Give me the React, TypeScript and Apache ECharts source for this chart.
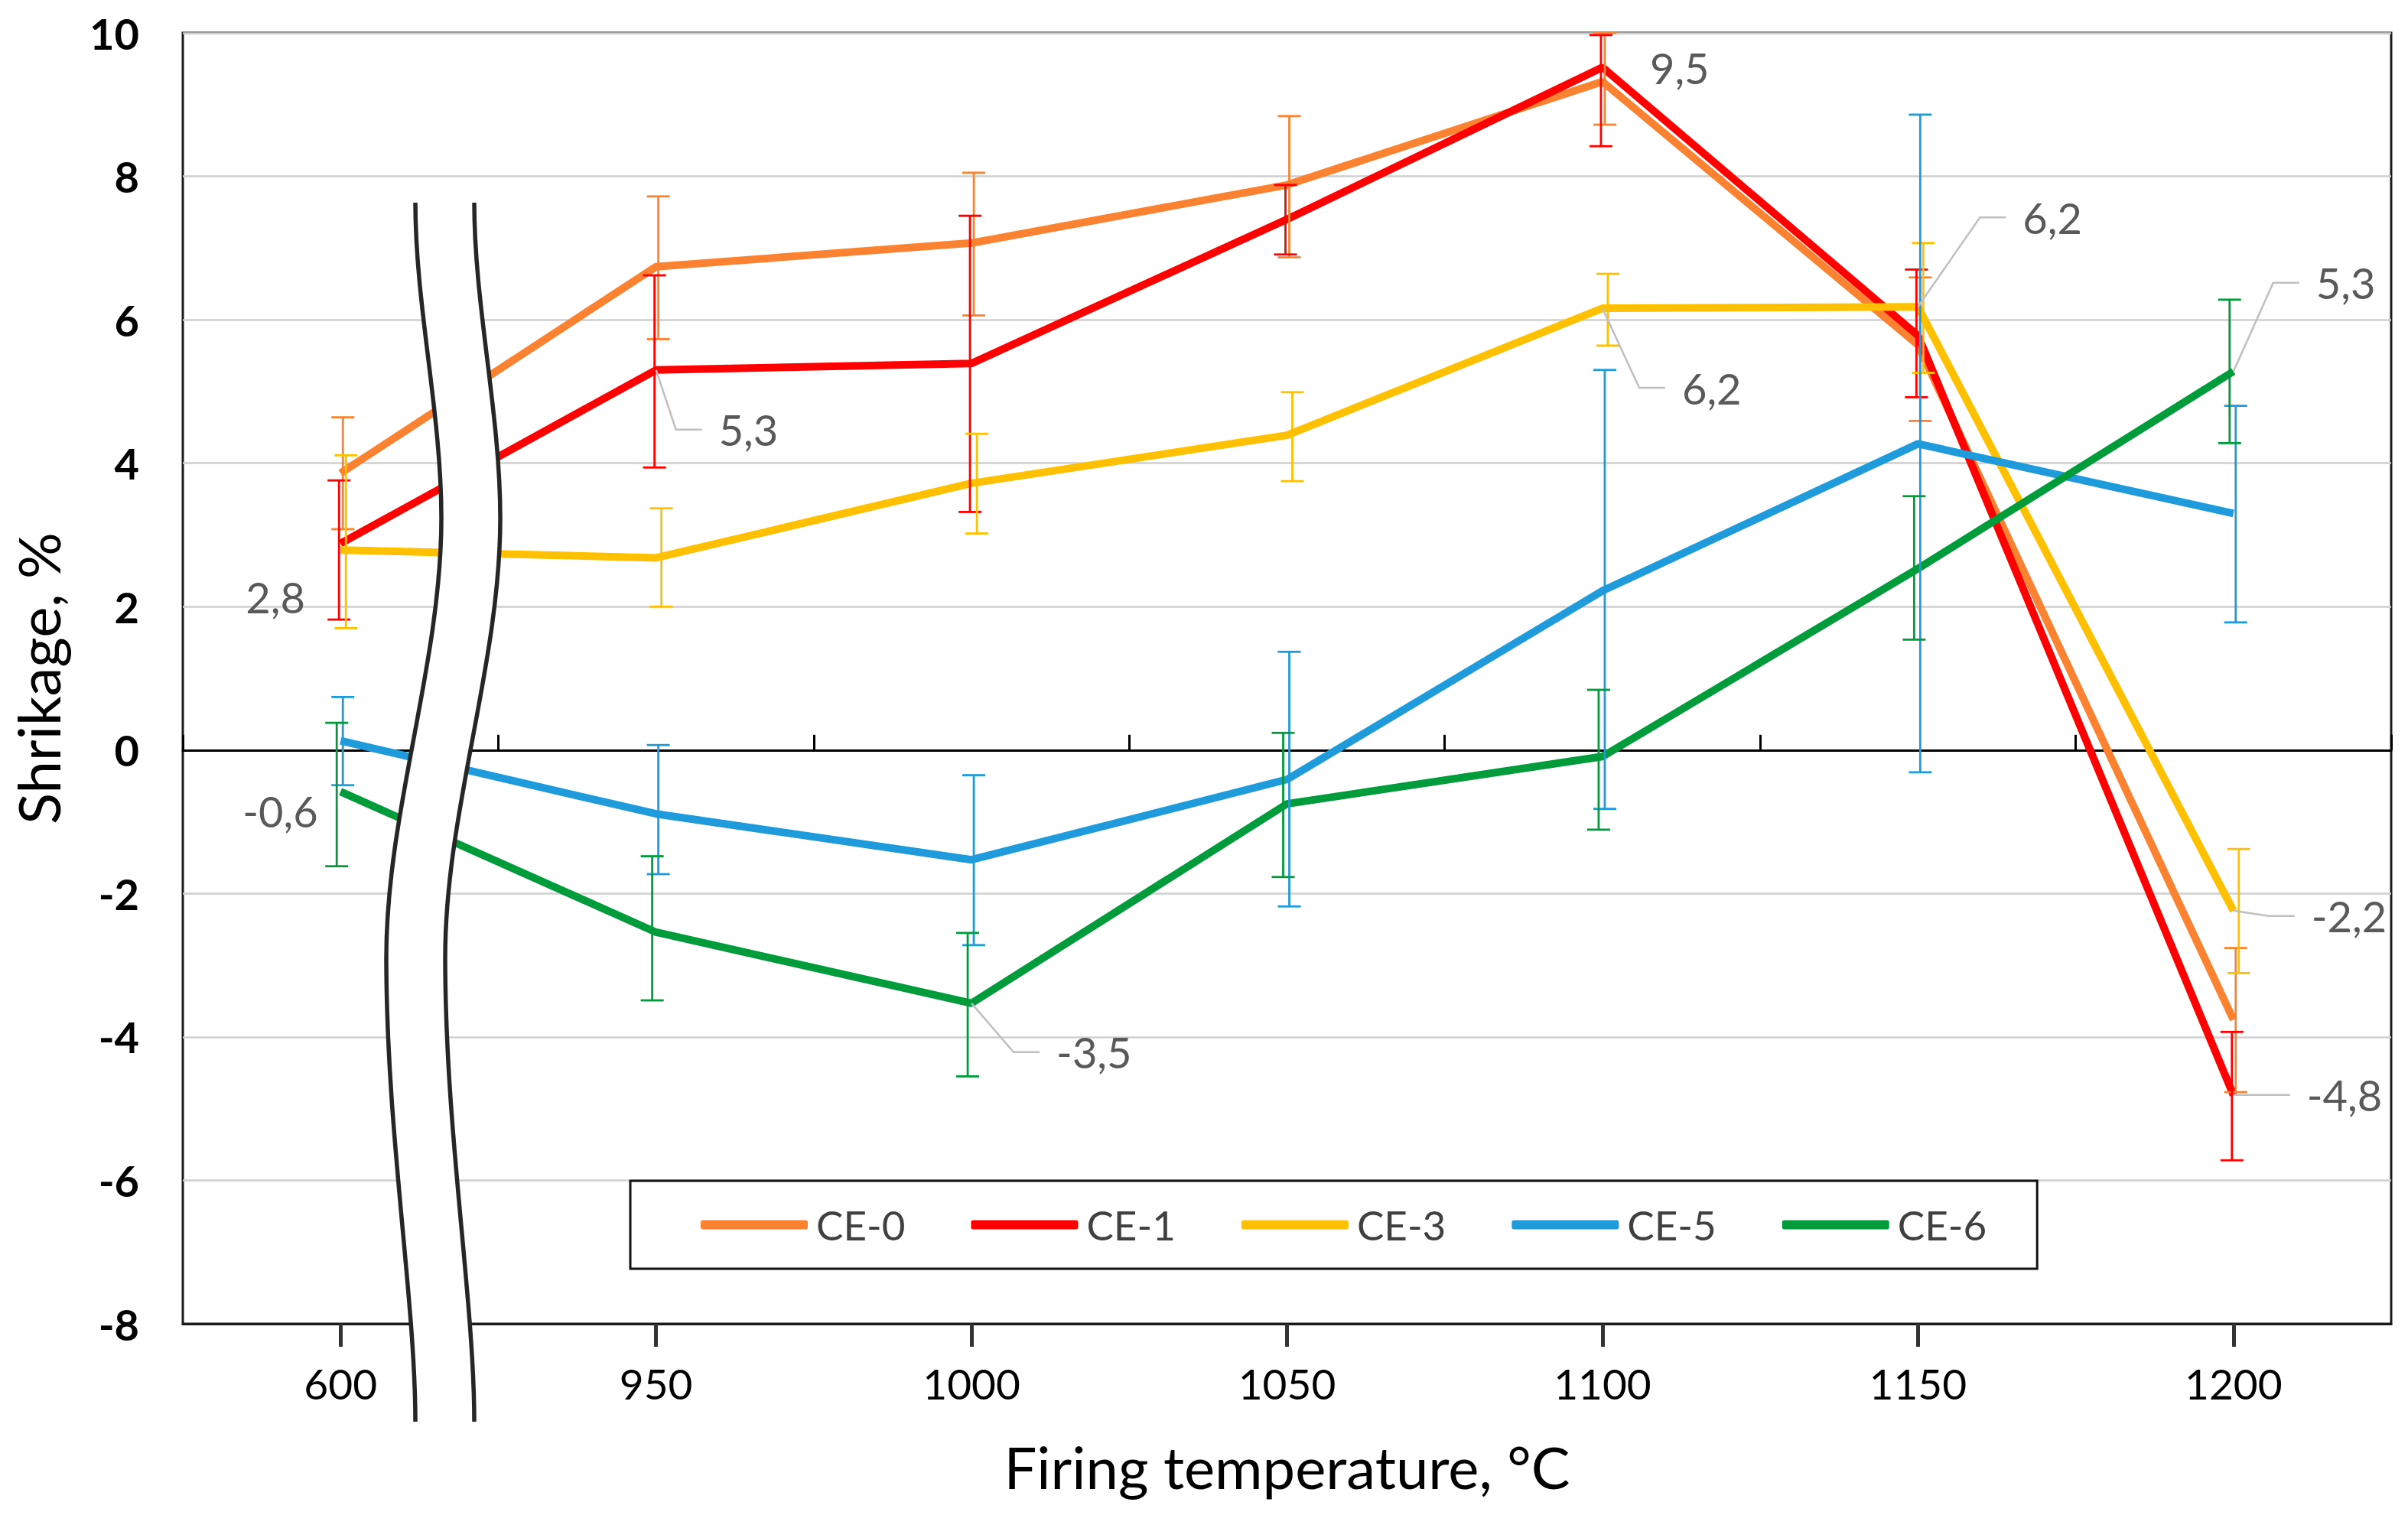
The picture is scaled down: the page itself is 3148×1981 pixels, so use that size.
import React, { useEffect, useRef } from 'react';
import * as echarts from 'echarts';

// ---------- data ----------
const categories = ['600', '950', '1000', '1050', '1100', '1150', '1200'];
const seriesNames = ['CE-0', 'CE-1', 'CE-3', 'CE-5', 'CE-6'];

const ce0 = [3.86, 6.74, 7.07, 7.88, 9.32, 5.65, -3.76];
const ce0Low = [3.08, 5.73, 6.06, 6.87, 8.72, 4.59, -4.77];
const ce0High = [4.64, 7.72, 8.05, 8.84, 10.0, 6.59, -2.76];

const ce1 = [2.88, 5.3, 5.39, 7.4, 9.52, 5.78, -4.81];
const ce1Low = [1.82, 3.94, 3.32, 6.91, 8.42, 4.92, -5.72];
const ce1High = [3.76, 6.62, 7.45, 7.88, 9.97, 6.7, -3.93];

const ce3 = [2.79, 2.68, 3.72, 4.39, 6.16, 6.18, -2.24];
const ce3Low = [1.7, 2.0, 3.02, 3.75, 5.64, 5.26, -3.11];
const ce3High = [4.11, 3.37, 4.41, 4.99, 6.64, 7.07, -1.38];

const ce5 = [0.13, -0.89, -1.53, -0.41, 2.22, 4.27, 3.3];
const ce5Low = [-0.49, -1.73, -2.72, -2.18, -0.82, -0.31, 1.78];
const ce5High = [0.74, 0.07, -0.35, 1.37, 5.3, 8.86, 4.8];

const ce6 = [-0.58, -2.54, -3.53, -0.75, -0.09, 2.53, 5.28];
const ce6Low = [-1.62, -3.49, -4.55, -1.77, -1.11, 1.54, 4.28];
const ce6High = [0.38, -1.48, -2.55, 0.24, 0.84, 3.54, 6.28];

const yTicks = { min: -8, max: 10, interval: 2 };

// ---------- style / layout ----------
const values = [ce0, ce1, ce3, ce5, ce6];
const lows = [ce0Low, ce1Low, ce3Low, ce5Low, ce6Low];
const highs = [ce0High, ce1High, ce3High, ce5High, ce6High];
const COLORS = ['#FA8230', '#FF0000', '#FFC000', '#1F9BDB', '#009B3A'];
const ERR_OFFSET = [3, -2, 7, 3, -5];
const FONT = 'Lato, "Open Sans", "Noto Sans", sans-serif';

// which points carry a value label and where the label sits (offset from the point)
const callouts = [
  { s: 2, i: 0, dx: -124, dy: 61, leader: false },
  { s: 1, i: 1, dx: 82, dy: 78, leader: true },
  { s: 1, i: 4, dx: 62, dy: 0, leader: false },
  { s: 2, i: 4, dx: 104, dy: 104, leader: true },
  { s: 2, i: 5, dx: 137, dy: -117, leader: true },
  { s: 4, i: 6, dx: 108, dy: -116, leader: true },
  { s: 4, i: 0, dx: -128, dy: 25, leader: false },
  { s: 4, i: 2, dx: 111, dy: 64, leader: true },
  { s: 2, i: 6, dx: 102, dy: 7, leader: true },
  { s: 1, i: 6, dx: 96, dy: 0, leader: true },
];

// axis-break decoration (two wavy strokes with white fill between them)
const leftD =
  'M543 265 C543 400 577 540 577 677 C577 870 505 1060 505 1252 C505 1480 543 1700 543 1859';
const rightD =
  'M620 265 C620 400 654 540 654 677 C654 870 582 1060 582 1252 C582 1480 620 1700 620 1859';
const fillD =
  leftD +
  ' L620 1859 C620 1700 582 1480 582 1252 C582 1060 654 870 654 677 C654 540 620 400 620 265 Z';

echarts.graphic.registerShape('breakFill', echarts.graphic.extendPath(fillD, {}));
echarts.graphic.registerShape('breakLeft', echarts.graphic.extendPath(leftD, {}));
echarts.graphic.registerShape('breakRight', echarts.graphic.extendPath(rightD, {}));

const fmt = (v: number) => v.toFixed(1).replace('.', ',');

export default function App() {
  const ref = useRef<HTMLDivElement>(null);

  useEffect(() => {
    document.body.style.margin = '0';
    const el = ref.current!;
    const chart = echarts.init(el, null, { renderer: 'svg' });

    const lineSeries = seriesNames.map((name, k) => ({
      name,
      type: 'line',
      xAxisIndex: 0,
      yAxisIndex: 0,
      data: values[k],
      symbol: 'none',
      color: COLORS[k],
      lineStyle: { color: COLORS[k], width: 10 },
      z: 2 + k * 0.01,
    }));

    const errSeries = seriesNames.map((name, k) => ({
      name: name + ' error',
      type: 'custom',
      xAxisIndex: 0,
      yAxisIndex: 0,
      data: categories.map((_, i) => [i, lows[k][i], highs[k][i]]),
      encode: { x: 0, y: [1, 2] },
      z: 5,
      silent: true,
      renderItem: (params: any, api: any) => {
        const idx = api.value(0);
        const x = api.coord([idx, 0])[0] + ERR_OFFSET[k];
        const yl = api.coord([idx, api.value(1)])[1];
        const yh = api.coord([idx, api.value(2)])[1];
        const hw = 15;
        const style = { stroke: COLORS[k], lineWidth: 2.8 };
        return {
          type: 'group',
          children: [
            { type: 'line', shape: { x1: x, y1: yh, x2: x, y2: yl }, style },
            { type: 'line', shape: { x1: x - hw, y1: yh, x2: x + hw, y2: yh }, style },
            { type: 'line', shape: { x1: x - hw, y1: yl, x2: x + hw, y2: yl }, style },
          ],
        };
      },
    }));

    chart.setOption({
      animation: false,
      backgroundColor: '#ffffff',
      textStyle: { fontFamily: FONT },
      grid: {
        left: 239,
        top: 43,
        right: 22,
        bottom: 250,
        show: true,
        borderColor: '#1a1a1a',
        borderWidth: 3,
        backgroundColor: 'transparent',
      },
      legend: {
        data: seriesNames,
        left: 824,
        top: 1544,
        orient: 'horizontal',
        icon: 'roundRect',
        itemWidth: 140,
        itemHeight: 12,
        itemGap: 86,
        padding: [31, 66, 31, 92],
        borderColor: '#111',
        borderWidth: 3,
        backgroundColor: '#fff',
        textStyle: {
          fontSize: 53,
          color: '#404040',
          fontFamily: FONT,
          padding: [0, 0, 0, 6],
        },
      },
      xAxis: [
        {
          type: 'category',
          data: categories,
          position: 'bottom',
          boundaryGap: true,
          axisLine: { show: true, onZero: false, lineStyle: { color: '#1a1a1a', width: 3 } },
          axisTick: {
            show: true,
            alignWithLabel: true,
            length: 30,
            lineStyle: { color: '#333', width: 5 },
          },
          axisLabel: { fontSize: 55, color: '#000', margin: 50, fontFamily: FONT },
          splitLine: { show: false },
          name: 'Firing temperature, °C',
          nameLocation: 'middle',
          nameGap: 148,
          nameTextStyle: { fontSize: 76, color: '#000', fontFamily: FONT },
        },
        {
          type: 'category',
          data: categories,
          position: 'top',
          boundaryGap: true,
          axisLine: { show: true, onZero: true, lineStyle: { color: '#000', width: 3 } },
          axisTick: { show: true, inside: false, length: 20, lineStyle: { color: '#000', width: 3 } },
          axisLabel: { show: false },
          splitLine: { show: false },
        },
      ],
      yAxis: {
        type: 'value',
        min: yTicks.min,
        max: yTicks.max,
        interval: yTicks.interval,
        axisLine: { show: false },
        axisTick: { show: false },
        axisLabel: {
          fontSize: 56,
          fontWeight: 'bold',
          color: '#000',
          margin: 57,
          fontFamily: FONT,
        },
        splitLine: { show: true, lineStyle: { color: '#CFCFCF', width: 2.5 } },
        name: 'Shrikage, %',
        nameLocation: 'middle',
        nameGap: 152,
        nameTextStyle: { fontSize: 76, color: '#000', fontFamily: FONT },
      },
      series: [...lineSeries, ...errSeries],
    });

    // value callouts and axis-break decoration
    const graphics: any[] = [];
    callouts.forEach((c) => {
      const v = values[c.s][c.i];
      const p = chart.convertToPixel({ xAxisIndex: 0, yAxisIndex: 0 } as any, [c.i, v]) as number[];
      const tx = p[0] + c.dx;
      const ty = p[1] + c.dy;
      if (c.leader) {
        graphics.push({
          type: 'polyline',
          z: 100,
          silent: true,
          shape: {
            points: [
              [p[0], p[1]],
              [tx - 56, ty],
              [tx - 22, ty],
            ],
          },
          style: { stroke: '#BFBFBF', lineWidth: 2.5, fill: null },
        });
      }
      graphics.push({
        type: 'text',
        z: 101,
        silent: true,
        x: tx,
        y: ty,
        style: {
          text: fmt(v),
          fontSize: 56,
          fontFamily: FONT,
          fill: '#595959',
          align: 'left',
          verticalAlign: 'middle',
          textAlign: 'left',
          textVerticalAlign: 'middle',
        },
      });
    });

    graphics.push(
      { type: 'breakFill', x: 0, y: 0, z: 90, silent: true, style: { fill: '#ffffff', stroke: null } },
      { type: 'breakLeft', x: 0, y: 0, z: 91, silent: true, style: { fill: null, stroke: '#262626', lineWidth: 5.5 } },
      { type: 'breakRight', x: 0, y: 0, z: 91, silent: true, style: { fill: null, stroke: '#262626', lineWidth: 5.5 } }
    );

    chart.setOption({ graphic: { elements: graphics } });

    return () => {
      chart.dispose();
    };
  }, []);

  return <div ref={ref} style={{ width: 3148, height: 1981 }} />;
}
